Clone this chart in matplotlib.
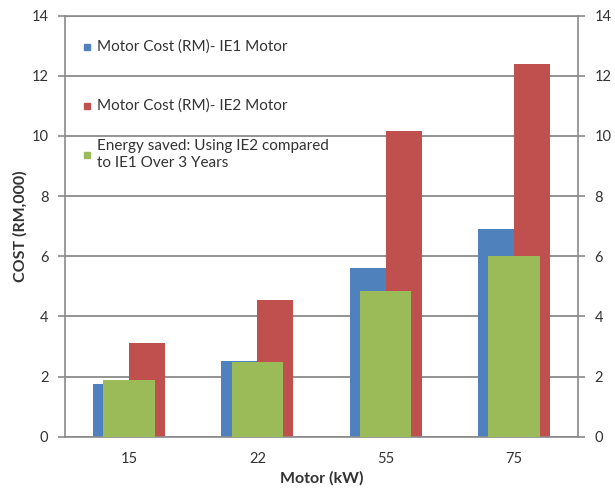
import matplotlib
matplotlib.use("Agg")
import matplotlib.pyplot as plt
import numpy as np

# Motor sizes and costs (thousands of RM)
motors = ["15", "22", "55", "75"]
ie1_cost = [1.75, 2.53, 5.6, 6.9]
ie2_cost = [3.1, 4.55, 10.15, 12.4]
energy_saved = [1.9, 2.47, 4.83, 6.0]
yticks = [0, 2, 4, 6, 8, 10, 12, 14]

labels = ["Motor Cost (RM)- IE1 Motor",
          "Motor Cost (RM)- IE2 Motor",
          "Energy saved: Using IE2 compared\nto IE1 Over 3 Years"]
colors = ["#4F81BD", "#C0504D", "#9BBB59"]

plt.rcParams["font.family"] = ["Lato", "DejaVu Sans"]
text_col = "#333333"
grid_col = "#8a8a8a"

fig = plt.figure(figsize=(6.15, 4.96), dpi=100)
ax = fig.add_axes([0.1057, 0.1196, 0.8341, 0.8487])

x = np.arange(len(motors))
bw = 0.28
ax.bar(x - bw / 2, ie1_cost, width=bw, color=colors[0], zorder=2)
ax.bar(x + bw / 2, ie2_cost, width=bw, color=colors[1], zorder=2)
ax.bar(x, energy_saved, width=0.40, color=colors[2], zorder=3)

ax.set_xlim(-0.5, len(motors) - 0.5)
ax.set_ylim(0, 14)
ax.set_yticks(yticks)
ax.set_yticklabels([str(v) for v in yticks])
ax.set_xticks(x)
ax.set_xticklabels(motors)

ax.yaxis.grid(True, color=grid_col, lw=1.3, zorder=0)
ax.set_axisbelow(True)
for side in ["left", "right", "bottom", "top"]:
    ax.spines[side].set_color(grid_col)
    ax.spines[side].set_linewidth(1.2)

ax.tick_params(axis="y", which="both", left=True, right=True,
               labelleft=True, labelright=True, direction="out",
               length=5, width=1.2, color=grid_col,
               labelsize=10.5, labelcolor=text_col, pad=7)
ax.tick_params(axis="x", length=0, labelsize=10.5, labelcolor=text_col, pad=11)

ax.set_xlabel("Motor (kW)", fontsize=11.5, fontweight="bold", color=text_col,
              labelpad=4)
ax.set_ylabel("COST (RM,000)", fontsize=11.5, fontweight="bold", color=text_col)
ax.yaxis.set_label_coords(-0.073, 0.5)

# Legend entries laid out down the upper-left of the plot
legend_y = [0.926, 0.786, 0.670]
for lab, col, yy in zip(labels, colors, legend_y):
    ax.plot([0.042], [yy], marker="s", ms=5, color=col, ls="none",
            transform=ax.transAxes, clip_on=False, zorder=5)
    ax.text(0.062, yy, lab, transform=ax.transAxes, fontsize=11,
            color=text_col, va="center", ha="left", linespacing=1.3,
            zorder=5)

fig.savefig("out.png", dpi=100)
